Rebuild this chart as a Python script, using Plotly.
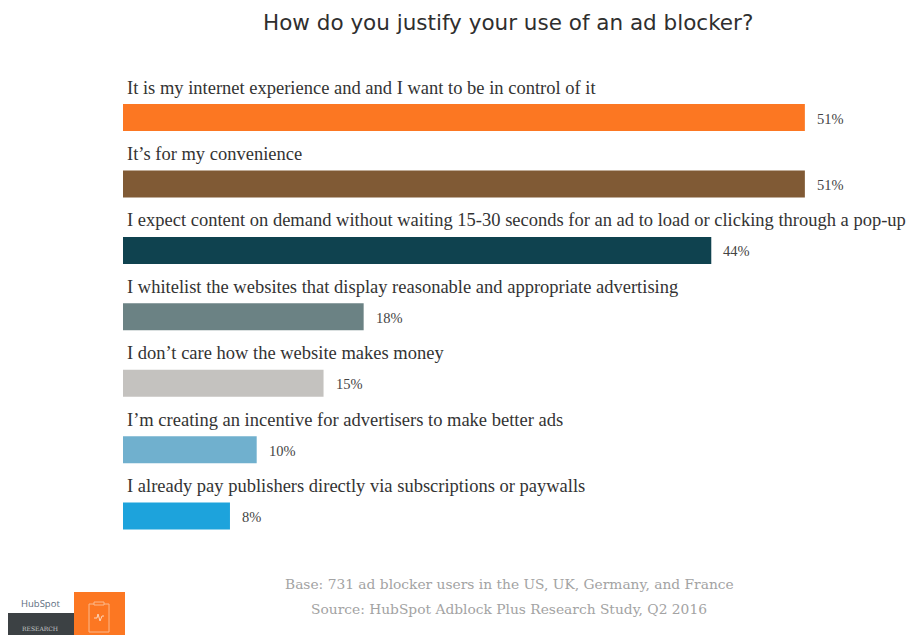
import plotly.graph_objects as go

questions = [
    "It is my internet experience and and I want to be in control of it",
    "It’s for my convenience",
    "I expect content on demand without waiting 15-30 seconds for an ad to load or clicking through a pop-up",
    "I whitelist the websites that display reasonable and appropriate advertising",
    "I don’t care how the website makes money",
    "I’m creating an incentive for advertisers to make better ads",
    "I already pay publishers directly via subscriptions or paywalls",
]
shares = [51, 51, 44, 18, 15, 10, 8]
colors = ["#FC7722", "#805A35", "#0F424F", "#6B8284", "#C4C2BF", "#70B0CE", "#1DA3DC"]
title = "How do you justify your use of an ad blocker?"
footer = [
    "Base: 731 ad blocker users in the US, UK, Germany, and France",
    "Source: HubSpot Adblock Plus Research Study, Q2 2016",
]

W, H = 909, 635
SERIF = "Liberation Serif"
rows = list(range(len(shares)))

fig = go.Figure(
    go.Bar(
        x=shares,
        y=rows,
        orientation="h",
        width=0.407,
        marker=dict(color=colors, line=dict(width=0)),
        cliponaxis=False,
        hoverinfo="skip",
    )
)

notes = []
for i, (q, v) in enumerate(zip(questions, shares)):
    # Question text sits just above each bar
    notes.append(dict(
        x=0, y=i, xref="x", yref="y", text=q, showarrow=False,
        xanchor="left", yanchor="middle", xshift=2, yshift=30,
        font=dict(family=SERIF, size=18.5, color="#333333"),
    ))
    # Percentage to the right of the bar end
    notes.append(dict(
        x=v, y=i, xref="x", yref="y", text=f"{v}%", showarrow=False,
        xanchor="left", yanchor="middle", xshift=10, yshift=-1,
        font=dict(family=SERIF, size=14.5, color="#444444"),
    ))


def px(x, y):
    return dict(x=x / W, y=1 - y / H, xref="paper", yref="paper")


notes.append(dict(**px(508, 23), text=title, showarrow=False, xanchor="center", yanchor="middle",
                  font=dict(family="DejaVu Sans", size=21.5, color="#2f2f2f")))
for text, yy in zip(footer, (584, 609)):
    notes.append(dict(**px(509, yy), text=text, showarrow=False, xanchor="center", yanchor="middle",
                      font=dict(family="DejaVu Serif", size=13.8, color="#a3a3a3")))
notes.append(dict(**px(40, 603), text="HubSpot", showarrow=False, xanchor="center", yanchor="middle",
                  font=dict(family="Open Sans", size=9.5, color="#5b6b7d")))
notes.append(dict(**px(40, 628), text="RESEARCH", showarrow=False, xanchor="center", yanchor="middle",
                  font=dict(family="DejaVu Serif", size=6, color="#c9cccd")))


# Publisher badge in the lower-left corner
def rect(x0, y0, x1, y1, **kw):
    return dict(type="rect", xref="paper", yref="paper", layer="above",
                x0=x0 / W, x1=x1 / W, y0=1 - y0 / H, y1=1 - y1 / H, **kw)


badge = [
    rect(8, 613, 74, 635, fillcolor="#3C4144", line=dict(width=0)),
    rect(74, 592, 125, 635, fillcolor="#FC7722", line=dict(width=0)),
    rect(89, 604, 109, 632, fillcolor="rgba(0,0,0,0)", line=dict(color="#FBB98C", width=1)),
    rect(94, 602, 104, 605, fillcolor="#FC7722", line=dict(color="#FBB98C", width=1)),
    dict(type="path", xref="paper", yref="paper", layer="above",
         path=" ".join(
             f"{'M' if k == 0 else 'L'} {x / W} {1 - y / H}"
             for k, (x, y) in enumerate([(94, 618), (97, 618), (98, 614), (100, 621), (102, 616), (104, 616)])
         ),
         line=dict(color="#FDD5BA", width=1)),
]

fig.update_layout(
    width=W,
    height=H,
    autosize=False,
    margin=dict(l=0, r=0, t=0, b=0),
    paper_bgcolor="white",
    plot_bgcolor="rgba(0,0,0,0)",
    showlegend=False,
    annotations=notes,
    shapes=badge,
    xaxis=dict(domain=[123 / W, 1], range=[0, 786 / 13.37], visible=False, fixedrange=True),
    yaxis=dict(range=[7.79, -1.77], visible=False, fixedrange=True),
)

fig.write_html("out.html", config={"displayModeBar": False})
